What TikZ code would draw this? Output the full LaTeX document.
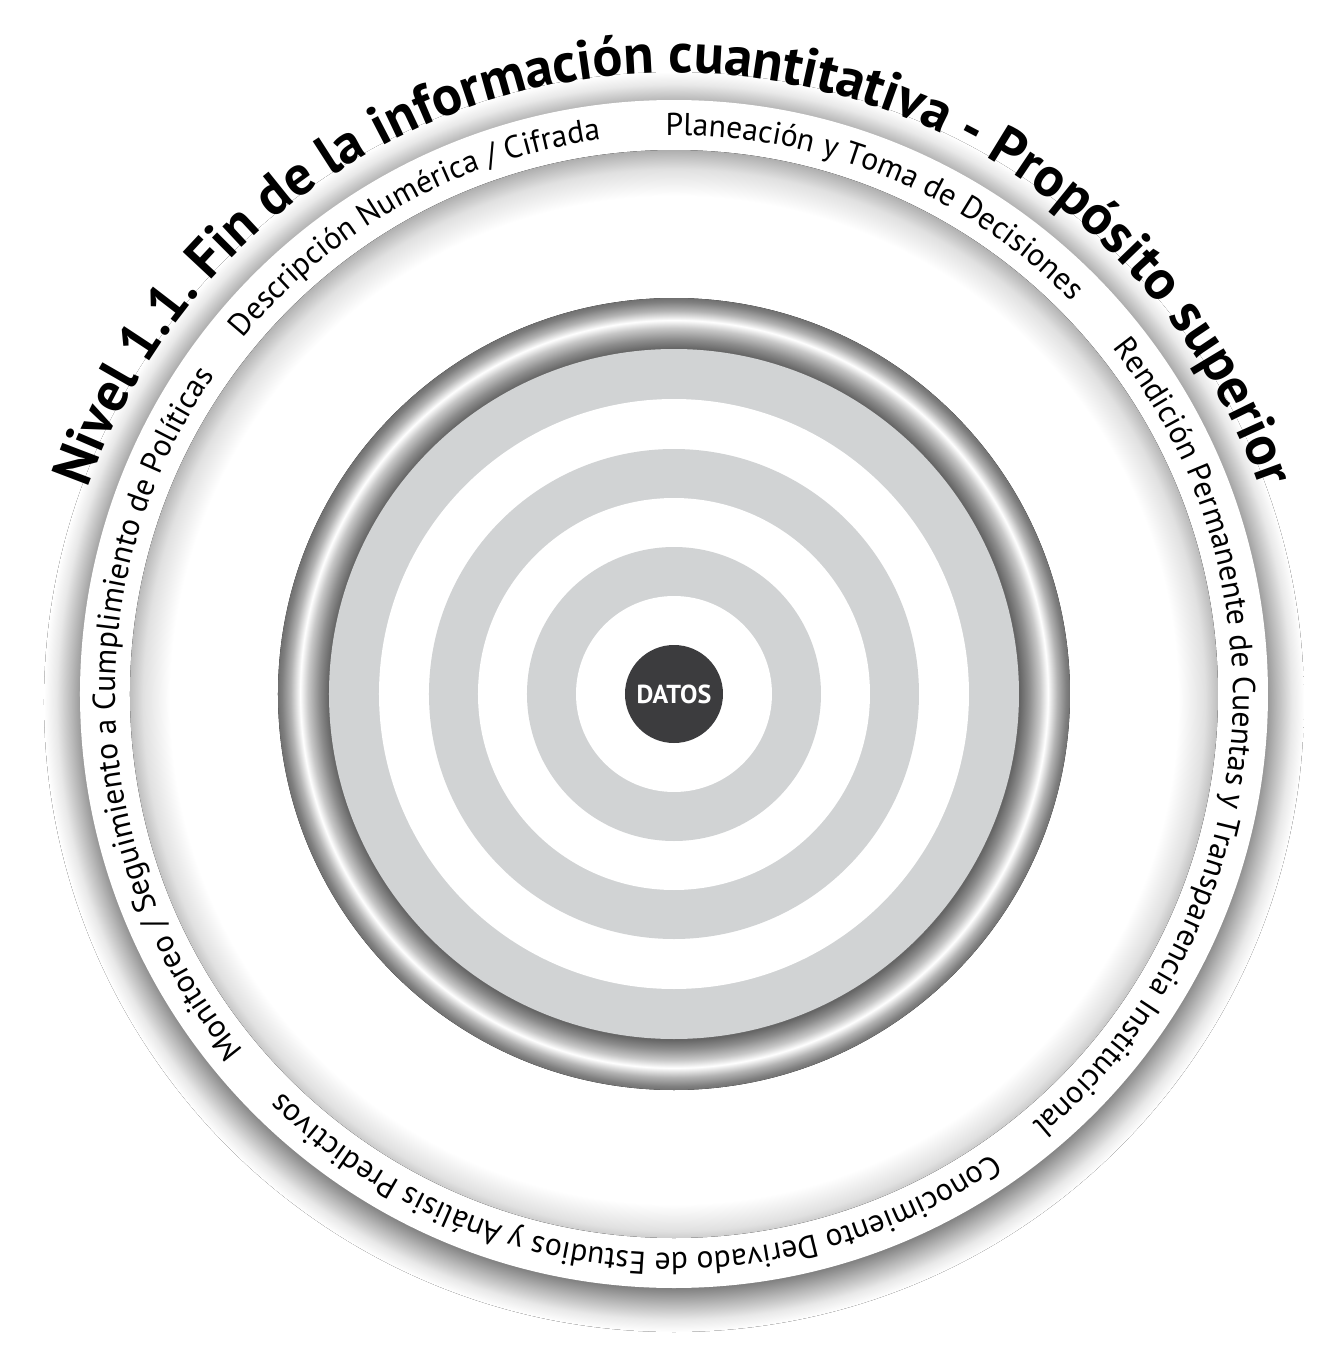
\documentclass[tikz,border=0pt]{standalone}
\usepackage{fontspec}
\setmainfont{PT Sans}
\usetikzlibrary{decorations.text}

\definecolor{ringgray}{HTML}{D1D3D4}
\definecolor{datosgray}{HTML}{3C3C3E}
\newcommand{\nivelfont}{\bfseries\fontsize{15.9}{19}\selectfont}
\newcommand{\bandfont}{\fontsize{9.0}{11}\selectfont}

\pgfdeclareradialshading{outershadow}{\pgfpointorigin}{color(0bp)=(black!50); color(23.25bp)=(black!50); color(23.9bp)=(black!28); color(24.5bp)=(black!9); color(25bp)=(white); color(50bp)=(white)}
\pgfdeclareradialshading{innershadow}{\pgfpointorigin}{color(0bp)=(white); color(22.5bp)=(white); color(23.7bp)=(black!12); color(25bp)=(black!42); color(50bp)=(black!42)}
\pgfdeclareradialshading{metalring}{\pgfpointorigin}{color(0bp)=(black!58); color(21.84bp)=(black!60); color(22.4bp)=(black!45); color(23.1bp)=(black!22); color(23.6bp)=(white); color(24.2bp)=(black!30); color(24.75bp)=(black!50); color(25bp)=(black!56); color(50bp)=(black!56)}

\begin{document}
\begin{tikzpicture}[
  bandlabel/.style={decorate, decoration={text along path, text align=center}}
]
  \useasboundingbox (-6.74,-6.53) rectangle (6.67,6.94);
  \fill[white] (-6.74,-6.53) rectangle (6.67,6.94);
  \fill[shading=outershadow] (0,-0.08) circle (6.30);
  \fill[white] (0,0) circle (5.94);
  \begin{scope}
    \clip (0,0) circle (5.44);
    \fill[shading=innershadow] (0,-0.06) circle (5.60);
  \end{scope}
  \fill[shading=metalring] (0,0) circle (3.96);
  \foreach \r/\c in {3.45/ringgray, 2.95/white, 2.45/ringgray, 1.96/white, 1.47/ringgray, 0.98/white}
    \fill[\c] (0,0) circle (\r);
  \node[circle, fill=datosgray, minimum size=0.98cm, inner sep=0pt, text=white, font=\bfseries\fontsize{7.4}{9}\selectfont] (datos) at (0,0) {DATOS};
  \path[bandlabel, decoration={text={|\nivelfont|Nivel 1.1. Fin de la información cuantitativa - Propósito superior}}] (166:6.21) arc[start angle=166, end angle=14, radius=6.21];
  \path[bandlabel, decoration={text={|\bandfont|Descripción Numérica / Cifrada}}] (148.5:5.59) arc[start angle=148.5, end angle=89.5, radius=5.59];
  \path[bandlabel, decoration={text={|\bandfont|Planeación y Toma de Decisiones}}] (98.6:5.59) arc[start angle=98.6, end angle=36.9, radius=5.59];
  \path[bandlabel, decoration={text={|\bandfont|Rendición Permanente de Cuentas y Transparencia Institucional}}] (46.4:5.59) arc[start angle=46.4, end angle=-58.2, radius=5.59];
  \path[bandlabel, decoration={text={|\bandfont|Conocimiento Derivado de Estudios y Análisis Predictivos}}] (-46.6:5.59) arc[start angle=-46.6, end angle=-143.2, radius=5.59];
  \path[bandlabel, decoration={text={|\bandfont|Monitoreo / Seguimiento a Cumplimiento de Políticas}}] (228.2:5.59) arc[start angle=228.2, end angle=136.7, radius=5.59];
\end{tikzpicture}
\end{document}
